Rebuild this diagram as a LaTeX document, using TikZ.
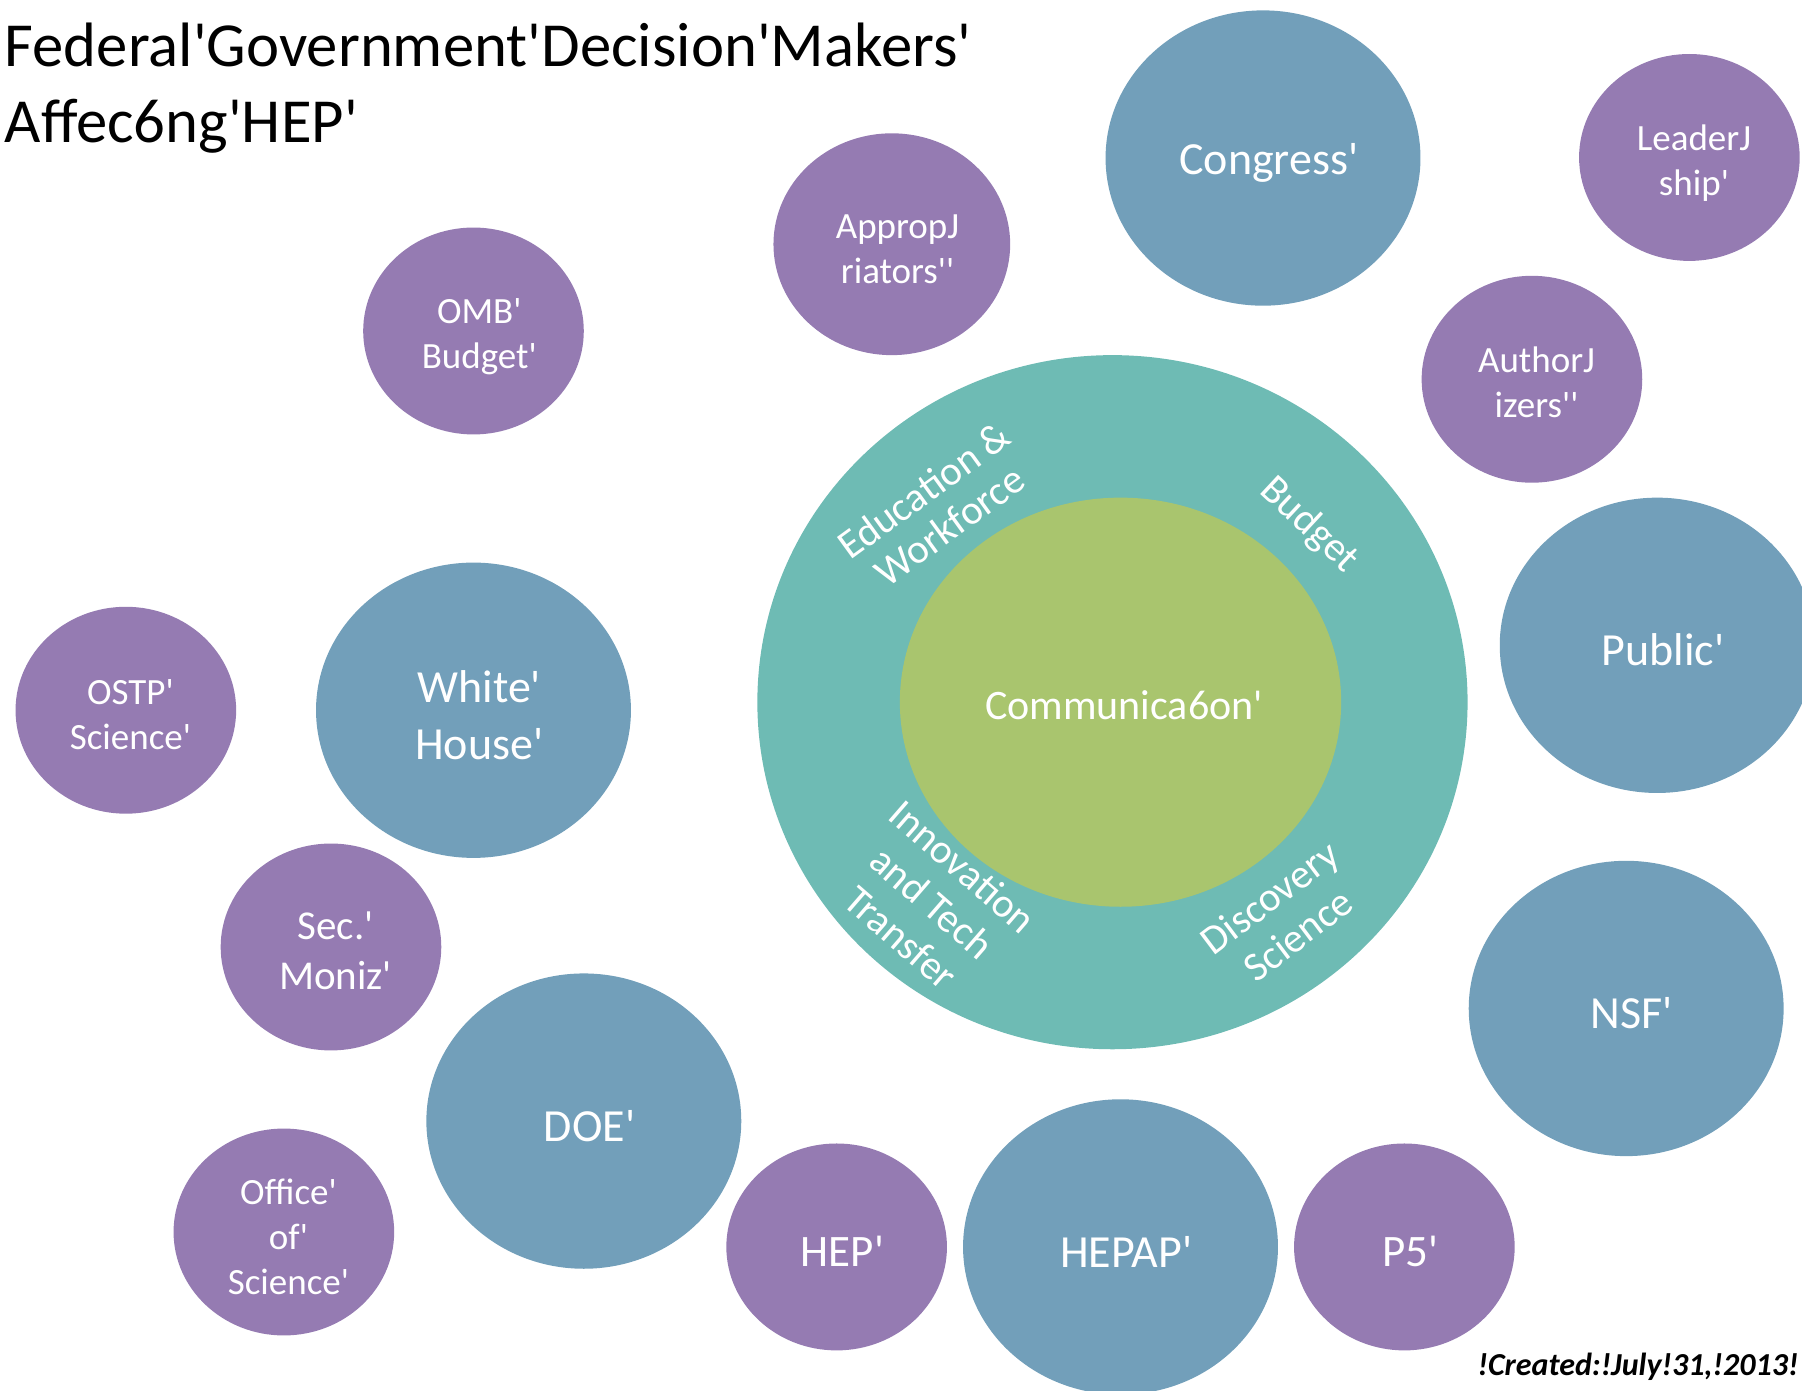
\documentclass[tikz,border=0pt]{standalone}
\usepackage{fontspec}
\newfontfamily\calib{Carlito}
\usetikzlibrary{shapes.geometric}
\definecolor{cblue}{RGB}{114,159,186}
\definecolor{cpurple}{RGB}{149,123,178}
\definecolor{cteal}{RGB}{110,187,180}
\definecolor{cgreen}{RGB}{169,197,110}
\tikzset{
  blob/.style={ellipse, inner sep=0pt, outer sep=0pt},
  bigc/.style={blob, fill=cblue, minimum width=314.9pt, minimum height=295.3pt},
  smallc/.style={blob, fill=cpurple, minimum width=220.6pt, minimum height=206.9pt},
  txt/.style={text=white, align=center, inner sep=0pt},
  bigt/.style={txt, font=\calib\fontsize{46pt}{57pt}\selectfont},
  smallt/.style={txt, font=\calib\fontsize{37pt}{45pt}\selectfont},
  ringlbl/.style={txt, font=\calib\fontsize{41pt}{46pt}\selectfont},
}
\begin{document}
\begin{tikzpicture}[x=1.1492pt, y=-1.1492pt]
\useasboundingbox (0,0) rectangle (1568,1209.5);
\clip (0,0) rectangle (1568,1209.5);
% central rings
\node[blob, fill=cteal, minimum width=710.2pt, minimum height=694.1pt] (ring) at (968,611) {};
\node[blob, fill=cgreen, minimum width=441.3pt, minimum height=409.1pt] (comm) at (975,611) {};
\node[txt, font=\calib\fontsize{42pt}{48pt}\selectfont] (commtxt) at (978,614) {Communica6on'};
\node[ringlbl, rotate=36, font=\calib\fontsize{41pt}{44pt}\selectfont] (edu) at (815,442) {Education \&\\Workforce};
\node[ringlbl, rotate=-43] (budg) at (1139,457) {Budget};
\node[ringlbl, rotate=-41, font=\calib\fontsize{41pt}{47pt}\selectfont] (innov) at (811,785) {Innovation\\and Tech\\Transfer};
\node[ringlbl, rotate=37, font=\calib\fontsize{41pt}{47pt}\selectfont] (disc) at (1117,797) {Discovery\\Science};
% big blue circles
\node[bigc] (congress) at (1099,137.5) {};
\node[bigc] (public) at (1442,561.5) {};
\node[bigc] (white) at (412,618) {};
\node[bigc] (nsf) at (1415,877.5) {};
\node[bigc] (doe) at (508,975.5) {};
\node[bigc] (hepap) at (975,1085) {};
\node[bigt] (congress-t) at ([shift={(5,4)}]congress.center) {Congress'};
\node[bigt] (public-t) at ([shift={(5,4)}]public.center) {Public'};
\node[bigt] (white-t) at ([shift={(5,4)}]white.center) {White'\\House'};
\node[bigt] (nsf-t) at ([shift={(5,4)}]nsf.center) {NSF'};
\node[bigt] (doe-t) at ([shift={(5,4)}]doe.center) {DOE'};
\node[bigt] (hepap-t) at ([shift={(5,4)}]hepap.center) {HEPAP'};
% purple circles
\node[smallc] (lead) at (1470,137) {};
\node[smallc, minimum width=236.7pt, minimum height=221.8pt] (approp) at (776,212.5) {};
\node[smallc] (omb) at (412,288) {};
\node[smallc] (auth) at (1333,330) {};
\node[smallc] (ostp) at (109.5,618) {};
\node[smallc] (moniz) at (288,824) {};
\node[smallc] (office) at (247,1072) {};
\node[smallc] (hep) at (728,1085) {};
\node[smallc] (p5) at (1222,1085) {};
\node[smallt] (lead-t) at ([shift={(4,5)}]lead.center) {LeaderJ\\ship'};
\node[smallt] (approp-t) at ([shift={(5,4)}]approp.center) {AppropJ\\riators''};
\node[smallt] (omb-t) at ([shift={(5,5)}]omb.center) {OMB'\\Budget'};
\node[smallt] (auth-t) at ([shift={(4,3)}]auth.center) {AuthorJ\\izers''};
\node[smallt] (ostp-t) at ([shift={(4,4)}]ostp.center) {OSTP'\\Science'};
\node[smallt, font=\calib\fontsize{41pt}{50pt}\selectfont] (moniz-t) at ([shift={(4,3)}]moniz.center) {Sec.'\\Moniz'};
\node[smallt] (office-t) at ([shift={(4,4)}]office.center) {Office'\\of'\\Science'};
\node[smallt, font=\calib\fontsize{45pt}{50pt}\selectfont] (hep-t) at ([shift={(5,4)}]hep.center) {HEP'};
\node[smallt, font=\calib\fontsize{45pt}{50pt}\selectfont] (p5-t) at ([shift={(5,4)}]p5.center) {P5'};
% title and date
\node[anchor=base west, inner sep=0pt, font=\calib\fontsize{62.7pt}{70pt}\selectfont] (title1) at (4,58) {Federal'Government'Decision'Makers'};
\node[anchor=base west, inner sep=0pt, font=\calib\fontsize{62.7pt}{70pt}\selectfont] (title2) at (4,124) {Affec6ng'HEP'};
\node[anchor=base east, inner sep=0pt, font=\calib\bfseries\itshape\fontsize{32pt}{36pt}\selectfont] (created) at (1565,1197) {!Created:!July!31,!2013!};
\end{tikzpicture}
\end{document}
